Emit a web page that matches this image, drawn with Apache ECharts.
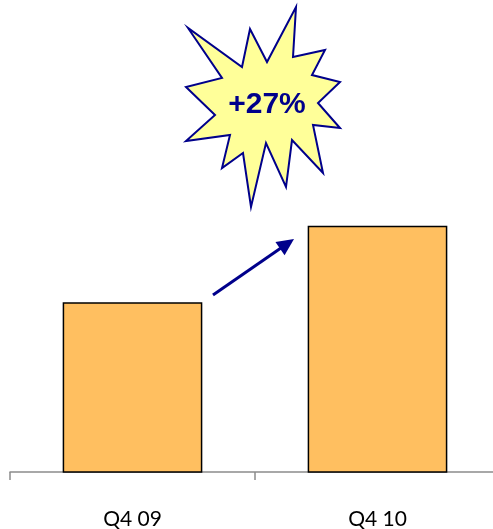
<!DOCTYPE html>
<html>
<head>
<meta charset="utf-8">
<script src="https://cdn.jsdelivr.net/npm/echarts@6/dist/echarts.min.js"></script>
<style>
  html, body { margin: 0; padding: 0; background: #fff; }
  #chart { width: 493px; height: 529px; }
</style>
</head>
<body>
<div id="chart"></div>
<script>
// Quarterly comparison data
const categories = ['Q4 09', 'Q4 10'];
const values = [100, 127];
const growthLabel = '+27%';

// Starburst outline, offsets from its centre (outer and inner points alternate)
const starOffsets = [
  [29, -100], [26, -50], [58, -57], [45, -32], [73, -25], [51, -4],
  [73, 21], [46, 18], [56, 66], [25, 33], [19, 80], [-1, 36],
  [-16, 100], [-24, 46], [-45, 61], [-37, 28], [-81, 34], [-52, 8],
  [-81, -20], [-45, -29], [-79, -79], [-25, -40], [-17, -78], [0, -45]
];

const chart = echarts.init(document.getElementById('chart'), null, { renderer: 'canvas' });

const navy = '#00008B';

const option = {
  animation: false,
  grid: { left: 10, right: -7, top: 19, bottom: 57, containLabel: false, outerBoundsMode: 'none' },
  xAxis: {
    type: 'category',
    data: categories,
    axisLine: { lineStyle: { color: '#8c8c8c', width: 1.5 } },
    axisTick: { show: true, length: 8, lineStyle: { color: '#8c8c8c', width: 1.5 } },
    axisLabel: { color: '#000', fontSize: 21, fontFamily: 'Lato, "Open Sans", sans-serif', margin: 37 }
  },
  yAxis: {
    type: 'value',
    min: 40,
    max: 200,
    show: false,
    splitLine: { show: false }
  },
  series: [{
    type: 'bar',
    data: values,
    barWidth: '57%',
    itemStyle: { color: '#FFBF60', borderColor: '#000', borderWidth: 1.5 }
  }]
};
chart.setOption(option);

// Growth arrow between the two bar tops
const arrowStart = [213, 295];
const arrowTip = [294, 239];
const dx = arrowTip[0] - arrowStart[0], dy = arrowTip[1] - arrowStart[1];
const len = Math.hypot(dx, dy);
const ux = dx / len, uy = dy / len;
const headLen = 17, headHalf = 8;
const baseX = arrowTip[0] - ux * headLen, baseY = arrowTip[1] - uy * headLen;

const starCenter = [267, 107];

chart.setOption({
  graphic: [
    {
      type: 'line',
      shape: { x1: arrowStart[0], y1: arrowStart[1], x2: baseX + ux * 2, y2: baseY + uy * 2 },
      style: { stroke: navy, lineWidth: 3 }
    },
    {
      type: 'polygon',
      shape: { points: [arrowTip, [baseX - uy * headHalf, baseY + ux * headHalf], [baseX + uy * headHalf, baseY - ux * headHalf]] },
      style: { fill: navy }
    },
    {
      type: 'polygon',
      x: starCenter[0], y: starCenter[1],
      shape: { points: starOffsets },
      style: { fill: '#FFFF99', stroke: navy, lineWidth: 2 }
    },
    {
      type: 'text',
      x: starCenter[0], y: starCenter[1] - 2,
      style: {
        text: growthLabel,
        fill: navy,
        font: 'bold 30px "Liberation Sans", Arial, sans-serif',
        align: 'center',
        verticalAlign: 'middle'
      }
    }
  ]
});
</script>
</body>
</html>
